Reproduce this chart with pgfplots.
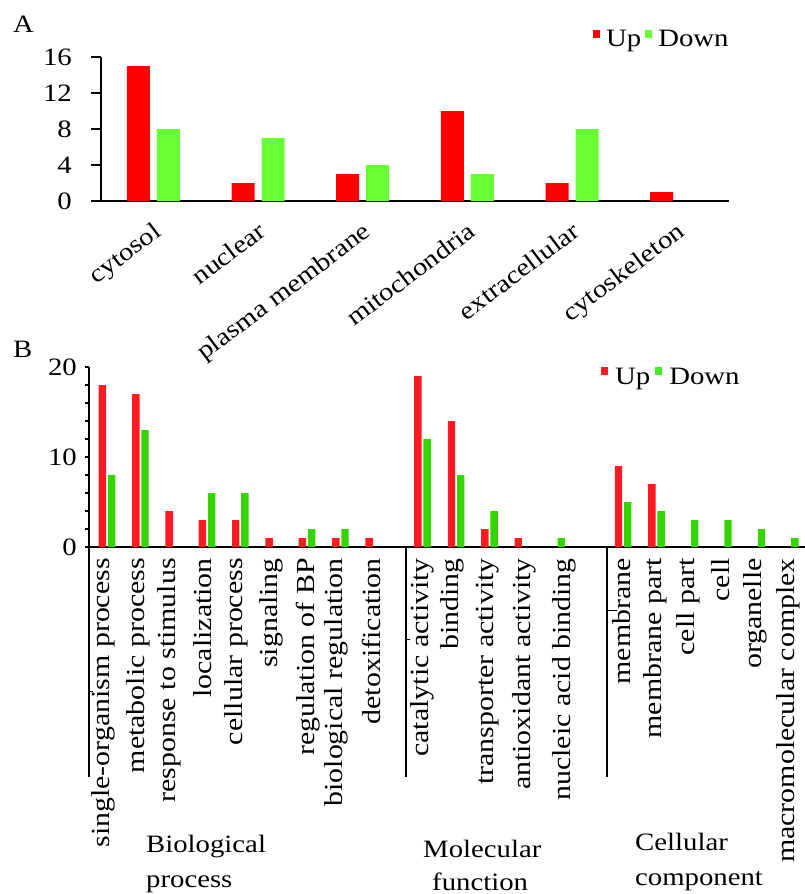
\documentclass[border=0pt]{standalone}
\usepackage{fontspec}
\setmainfont[FakeStretch=1.15]{Liberation Serif}
\usepackage{pgfplots}
\pgfplotsset{compat=1.18}
\definecolor{ared}{HTML}{FF0000}
\definecolor{agreen}{HTML}{66FF33}
\definecolor{bred}{HTML}{FF1A22}
\definecolor{bgreen}{HTML}{33D400}
\definecolor{lgreen}{HTML}{44EE22}
\newcommand{\fs}{\fontsize{25}{30}\selectfont}
\newcommand{\fa}{\fontsize{25}{30}\selectfont}
\newcommand{\fb}{\fontsize{26}{30}\selectfont}

\begin{document}
\begin{tikzpicture}
\useasboundingbox (0,0) rectangle (805pt,-894pt);
\node[anchor=base west, font=\fs, inner sep=0pt] at (13pt,-32pt) {A};
\node[anchor=base west, font=\fs, inner sep=0pt] at (13pt,-357pt) {B};

% ---------------- Panel A ----------------
\begin{axis}[
  at={(101pt,-201pt)}, anchor=south west, scale only axis,
  width=628pt, height=144pt,
  xmin=0.5, xmax=6.5, ymin=0, ymax=16,
  clip=false,
  axis x line=bottom, axis y line=left,
  axis line style={-, line width=1.5pt, black},
  ytick={0,4,8,12,16}, tick align=outside, major tick length=10pt,
  tick style={line width=1.5pt, black},
  xtick={1,...,6},
  xticklabels={cytosol,nuclear,plasma membrane,mitochondria,extracellular,cytoskeleton},
  x tick style={draw=none},
  xticklabel style={xshift=-1pt, yshift=-9.5pt, rotate=37, anchor=north east, inner sep=0pt, font=\fa},
  yticklabel style={font=\fs, inner sep=0pt, xshift=-19pt},
  /pgf/number format/assume math mode=true,
  legend columns=2,
  legend style={draw=none, fill=none, inner sep=0pt, font=\fs,
    at={(axis cs:5.2,18.0)}, anchor=west,
    nodes={inner sep=0pt},
    /tikz/every odd column/.append style={column sep=6pt},
    /tikz/every even column/.append style={column sep=4pt}},
]
\addplot[ybar, bar width=23pt, bar shift=-15pt, fill=ared, draw=none,
  legend image code/.code={\fill[ared] (0pt,1.5pt) rectangle (7pt,9.5pt);}]
  coordinates {(1,15) (2,2) (3,3) (4,10) (5,2) (6,1)};
\addlegendentry{Up}
\addplot[ybar, bar width=23pt, bar shift=15pt, fill=agreen, draw=none,
  legend image code/.code={\fill[agreen] (0pt,1.5pt) rectangle (7pt,9.5pt);}]
  coordinates {(1,8) (2,7) (3,4) (4,3) (5,8)};
\addlegendentry{Down}
\draw[line width=1.5pt] (rel axis cs:0,0) -- ++(-10pt,0pt);
\end{axis}

% ---------------- Panel B ----------------
\begin{axis}[
  at={(89pt,-547pt)}, anchor=south west, scale only axis,
  width=716pt, height=180pt,
  xmin=89, xmax=805, ymin=0, ymax=20,
  clip=false,
  axis x line=bottom, axis y line=left,
  axis line style={-, line width=1.5pt, black},
  ytick={0,10,20}, minor ytick={2,4,6,8,12,14,16,18},
  tick align=outside, major tick length=4pt, minor tick length=4pt,
  tick style={line width=1.2pt, black},
  minor tick style={line width=1.2pt, black},
  xtick={103,138.5,169,202.5,236.5,271,308,336.7,371.7,422.5,452.5,487.5,524,564,621.5,655,688.5,720.5,755,788.5},
  xticklabels={single-organism process,metabolic process,response to stimulus,localization,cellular process,signaling,regulation of BP,biological regulation,detoxification,catalytic activity,binding,transporter activity,antioxidant activity,nucleic acid binding,membrane,membrane part,cell part,cell,organelle,macromolecular complex},
  x tick style={draw=none},
  xticklabel style={yshift=-7pt, rotate=90, anchor=east, inner sep=0pt, font=\fb},
  yticklabel style={font=\fs, inner sep=0pt, xshift=-8pt},
  /pgf/number format/assume math mode=true,
  legend columns=2,
  legend style={draw=none, fill=none, inner sep=0pt, font=\fs,
    at={(axis cs:601,18.97)}, anchor=west,
    nodes={inner sep=0pt},
    /tikz/every odd column/.append style={column sep=7pt},
    /tikz/every even column/.append style={column sep=5pt}},
]
\addplot[ybar, bar width=7.4pt, bar shift=-4.6pt, fill=bred, draw=none,
  legend image code/.code={\fill[bred] (0pt,2pt) rectangle (7pt,10pt);}]
  coordinates {(107,18) (140.4,17) (173.7,4) (207,3) (240.3,3) (273.7,1) (307,1) (340.4,1) (373.7,1)
               (422.5,19) (456.1,14) (489.5,2) (522.8,1)
               (623.1,9) (656.5,7)};
\addlegendentry{Up}
\addplot[ybar, bar width=7.4pt, bar shift=4.6pt, fill=bgreen, draw=none,
  legend image code/.code={\fill[lgreen] (0pt,2pt) rectangle (7pt,10pt);}]
  coordinates {(107,8) (140.4,13) (207,6) (240.3,6) (307,2) (340.4,2)
               (422.5,12) (456.1,8) (489.5,4) (556.6,1)
               (623.1,5) (656.5,4) (690.1,3) (723.4,3) (756.9,2) (790.3,1)};
\addlegendentry{Down}
\draw[line width=1.5pt] (rel axis cs:0,0) -- ++(-4pt,0pt);
\draw[line width=1.2pt] (axis cs:89,0) -- ++(0pt,-230pt);
\draw[line width=1.2pt] (axis cs:406,0) -- ++(0pt,-230pt);
\draw[line width=1.2pt] (axis cs:607,0) -- ++(0pt,-230pt);
\draw[line width=0.8pt] (axis cs:89,0) ++(0pt,-144pt) -- ++(4pt,0pt);
\draw[line width=0.8pt] (axis cs:406,0) ++(0pt,-92pt) -- ++(4pt,0pt);
\draw[line width=0.8pt] (axis cs:607,0) ++(0pt,-63pt) -- ++(10pt,0pt);
\end{axis}

\node[anchor=base west, font=\fs, inner sep=0pt] at (146pt,-852pt) {Biological};
\node[anchor=base west, font=\fs, inner sep=0pt] at (146pt,-887pt) {process};
\node[anchor=base west, font=\fs, inner sep=0pt] at (423pt,-857pt) {Molecular};
\node[anchor=base west, font=\fs, inner sep=0pt] at (432pt,-890pt) {function};
\node[anchor=base west, font=\fs, inner sep=0pt] at (635pt,-850pt) {Cellular};
\node[anchor=base west, font=\fs, inner sep=0pt] at (635pt,-885pt) {component};
\end{tikzpicture}
\end{document}
